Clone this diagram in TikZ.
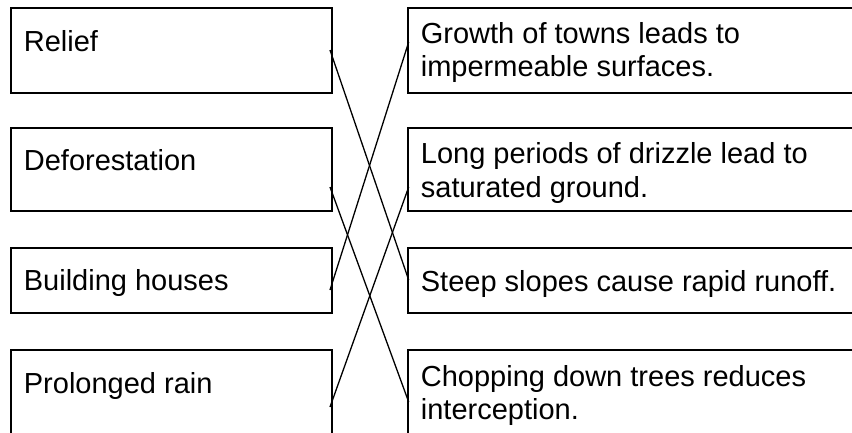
\documentclass[tikz,border=0pt]{standalone}
\usepackage{fontspec}
\setmainfont{Liberation Sans}
\usetikzlibrary{positioning}
\tikzset{box/.style={draw, line width=2.2pt, inner sep=0pt, outer sep=0pt, anchor=north west},
  lbox/.style={box, minimum width=321.3pt},
  rbox/.style={box, minimum width=470pt},
  txt/.style={anchor=base west, inner sep=0pt, align=left, font=\fontsize{29}{33.5}\selectfont},
  link/.style={line width=1.3pt}}
% #2 = depth of the last baseline below the top of the box
\newcommand{\lbl}[3]{\node[txt] (#1txt) at ([xshift=13pt,yshift=-#2pt]#1.north west) {#3};}

\begin{document}
\begin{tikzpicture}[x=1pt,y=-1pt]
\useasboundingbox (0,0) rectangle (852,432);
\clip (0,0) rectangle (852,432);

\node[lbox, minimum height=84.4pt] (relief) at (10.7,8.3) {};
\node[lbox, minimum height=82.7pt] (defor) at (10.7,128.3) {};
\node[lbox, minimum height=65pt] (build) at (10.7,248.3) {};
\node[lbox, minimum height=100pt] (rain) at (10.7,350.3) {};
\lbl{relief}{43.5}{Relief}
\lbl{defor}{42}{Deforestation}
\lbl{build}{42}{Building houses}
\lbl{rain}{43}{Prolonged rain}

\node[rbox, minimum height=84.4pt] (towns) at (407.7,8.3) {};
\node[rbox, minimum height=82.7pt] (drizzle) at (407.7,128.3) {};
\node[rbox, minimum height=65pt] (slopes) at (407.7,248.3) {};
\node[rbox, minimum height=100pt] (trees) at (407.7,350.3) {};
\lbl{towns}{68.5}{Growth of towns leads to\\impermeable surfaces.}
\lbl{drizzle}{69}{Long periods of drizzle lead to\\saturated ground.}
\lbl{slopes}{42.7}{Steep slopes cause rapid runoff.}
\lbl{trees}{69.5}{Chopping down trees reduces\\interception.}

\draw[link] ([xshift=-2pt,yshift=-41.7pt]relief.north east) -- ([xshift=1pt,yshift=-31.7pt]slopes.north west);
\draw[link] ([xshift=-2pt,yshift=-58.7pt]defor.north east) -- ([xshift=1pt,yshift=-51.7pt]trees.north west);
\draw[link] ([xshift=-2pt,yshift=-41.7pt]build.north east) -- ([xshift=1pt,yshift=-33.7pt]towns.north west);
\draw[link] ([xshift=-2pt,yshift=-56.7pt]rain.north east) -- ([xshift=1pt,yshift=-58.7pt]drizzle.north west);
\end{tikzpicture}
\end{document}
